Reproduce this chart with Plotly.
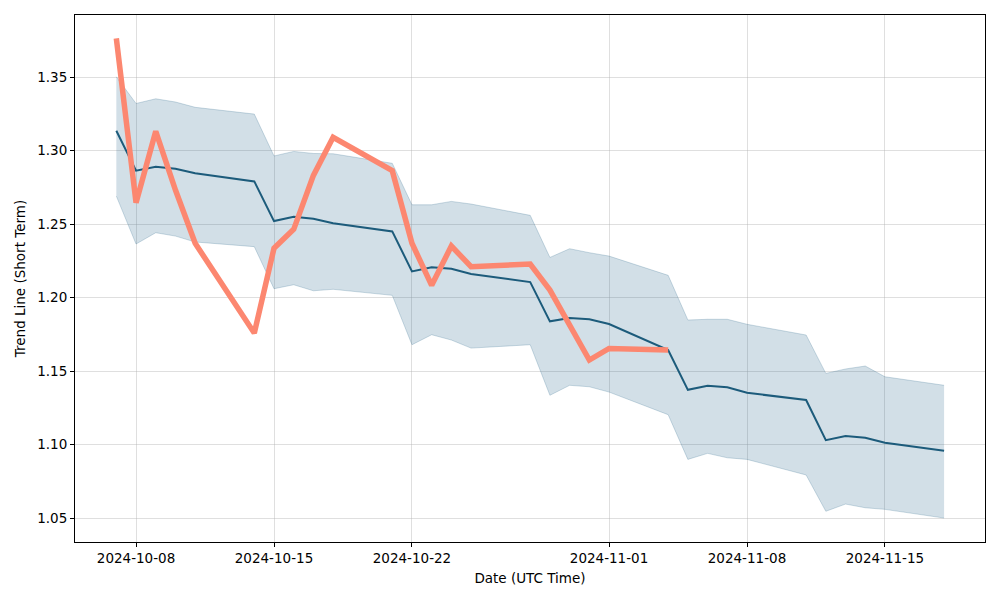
import plotly.graph_objects as go
import pandas as pd

# Trading days (weekdays) shown on the chart
dates = pd.bdate_range("2024-10-07", "2024-11-18")

trend_mean = [1.3135, 1.2863, 1.2890, 1.2876, 1.2845,
              1.2790, 1.2520, 1.2550, 1.2536, 1.2505,
              1.2450, 1.2178, 1.2206, 1.2196, 1.2160,
              1.2105, 1.1838, 1.1860, 1.1852, 1.1820,
              1.1643, 1.1372, 1.1400, 1.1389, 1.1352,
              1.1303, 1.1030, 1.1058, 1.1046, 1.1012,
              1.0958]

trend_upper = [1.3502, 1.3320, 1.3352, 1.3330, 1.3294,
               1.3248, 1.2963, 1.2994, 1.2980, 1.2978,
               1.2913, 1.2631, 1.2631, 1.2654, 1.2636,
               1.2559, 1.2273, 1.2332, 1.2305, 1.2282,
               1.2151, 1.1847, 1.1852, 1.1852, 1.1818,
               1.1745, 1.1484, 1.1514, 1.1534, 1.1461,
               1.1403]

trend_lower = [1.2690, 1.2364, 1.2441, 1.2418, 1.2378,
               1.2346, 1.2060, 1.2087, 1.2046, 1.2056,
               1.2015, 1.1679, 1.1747, 1.1711, 1.1656,
               1.1679, 1.1335, 1.1403, 1.1393, 1.1357,
               1.1203, 1.0899, 1.0940, 1.0910, 1.0899,
               1.0793, 1.0546, 1.0595, 1.0570, 1.0559,
               1.0500]

# Actual values (only up to 2024-11-04)
actual = [1.3763, 1.2645, 1.3131, 1.2731, 1.2369,
          1.1758, 1.2335, 1.2464, 1.2831, 1.3090,
          1.2863, 1.2369, 1.2083, 1.2350, 1.2210,
          1.2228, 1.2051, 1.1813, 1.1575, 1.1654,
          1.1643]

x_ticks = ["2024-10-08", "2024-10-15", "2024-10-22", "2024-11-01", "2024-11-08", "2024-11-15"]
y_ticks = [1.05, 1.10, 1.15, 1.20, 1.25, 1.30, 1.35]

band_edge = "rgba(31,95,133,0.22)"
band_fill = "rgba(31,95,133,0.2)"

fig = go.Figure()
fig.add_trace(go.Scatter(x=dates, y=trend_upper, mode="lines",
                         line=dict(color=band_edge, width=1), showlegend=False))
fig.add_trace(go.Scatter(x=dates, y=trend_lower, mode="lines", fill="tonexty",
                         fillcolor=band_fill,
                         line=dict(color=band_edge, width=1), showlegend=False))
fig.add_trace(go.Scatter(x=dates, y=trend_mean, mode="lines",
                         line=dict(color="#1c5b7b", width=2), showlegend=False))
fig.add_trace(go.Scatter(x=dates[:len(actual)], y=actual, mode="lines",
                         line=dict(color="#fc8770", width=5.5), showlegend=False))

axis_common = dict(
    showline=True, linecolor="black", linewidth=1, mirror=True,
    ticks="outside", ticklen=4, tickcolor="black",
    showgrid=True, gridcolor="rgba(176,176,176,0.4)", gridwidth=1,
    zeroline=False,
    tickfont=dict(family="DejaVu Sans", size=13.5, color="black"),
)

fig.update_xaxes(
    range=["2024-10-04 21:40", "2024-11-20 01:50"],
    tickvals=x_ticks, ticktext=x_ticks,
    title=dict(text="Date (UTC Time)", font=dict(family="DejaVu Sans", size=13.5, color="black"),
               standoff=8),
    **axis_common,
)
fig.update_yaxes(
    range=[1.0337, 1.3922],
    tickvals=y_ticks, ticktext=[f"{v:.2f}" for v in y_ticks],
    title=dict(text="Trend Line (Short Term)", font=dict(family="DejaVu Sans", size=13.5, color="black"),
               standoff=8),
    **axis_common,
)

# page body adds an 8px offset, so the figure is sized to fit the window
fig.update_layout(
    width=992, height=592,
    autosize=False,
    margin=dict(l=67, r=15, t=7, b=58),
    paper_bgcolor="white",
    plot_bgcolor="white",
)

fig.write_html("out.html")
